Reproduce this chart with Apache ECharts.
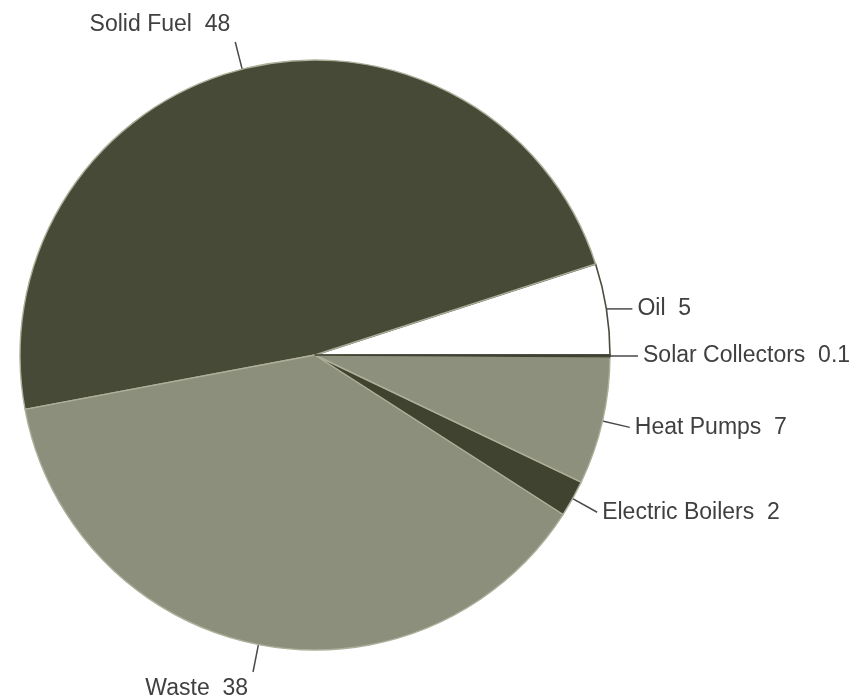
<!DOCTYPE html>
<html>
<head>
<meta charset="utf-8">
<script src="https://cdn.jsdelivr.net/npm/echarts@6/dist/echarts.min.js"></script>
<style>
  html, body { margin: 0; padding: 0; background: #ffffff; }
  #chart { width: 864px; height: 698px; }
</style>
</head>
<body>
<div id="chart"></div>
<script>
// Heat supply shares by source (percent), counter-clockwise from 3 o'clock
const categories = ['Oil', 'Solid Fuel', 'Waste', 'Electric Boilers', 'Heat Pumps', 'Solar Collectors'];
const values = [5, 48, 38, 2, 7, 0.1];
const sliceColors = ['#ffffff', '#474a36', '#8d8f7d', '#40432f', '#8e907e', '#3f4230'];
const borderColors = ['#4a4a40', '#aeae9a', '#aeae9a', '#aeae9a', '#aeae9a', '#3f4230'];

// per-slice leader lengths; the top label sits above its leader, the bottom one below
const leaderStyle = {
  'Oil':              { length: 0,  length2: 26, fmt: '{b}  {c}' },
  'Solid Fuel':       { length: 28, length2: 0,  fmt: '{b}  {c}\n' },
  'Waste':            { length: 28, length2: 0,  fmt: '\n{b}  {c}' },
  'Electric Boilers': { length: 28, length2: 0,  fmt: '{b}  {c}' },
  'Heat Pumps':       { length: 28, length2: 0,  fmt: '{b}  {c}' },
  'Solar Collectors': { length: 14, length2: 14, fmt: '{b}  {c}' }
};

const data = categories.map((name, i) => {
  const s = leaderStyle[name];
  return {
    name: name,
    value: values[i],
    itemStyle: {
      color: sliceColors[i],
      borderColor: borderColors[i],
      borderWidth: name === 'Oil' ? 1.6 : 1.4
    },
    label: { formatter: s.fmt },
    labelLine: { length: s.length, length2: s.length2 }
  };
});

const chart = echarts.init(document.getElementById('chart'), null, { renderer: 'canvas' });
chart.setOption({
  backgroundColor: '#ffffff',
  animation: false,
  series: [{
    type: 'pie',
    center: [315, 355],
    radius: 295,
    startAngle: 0,
    clockwise: false,
    avoidLabelOverlap: false,
    minShowLabelAngle: 0,
    data: data,
    label: {
      show: true,
      position: 'outside',
      fontFamily: 'Liberation Sans, Arial, sans-serif',
      fontSize: 23,
      lineHeight: 34,
      color: '#404040',
      distanceToLabelLine: 5
    },
    labelLine: {
      show: true,
      lineStyle: { color: '#4a4a4a', width: 1.5 }
    },
    emphasis: { disabled: true }
  }]
});
</script>
</body>
</html>
